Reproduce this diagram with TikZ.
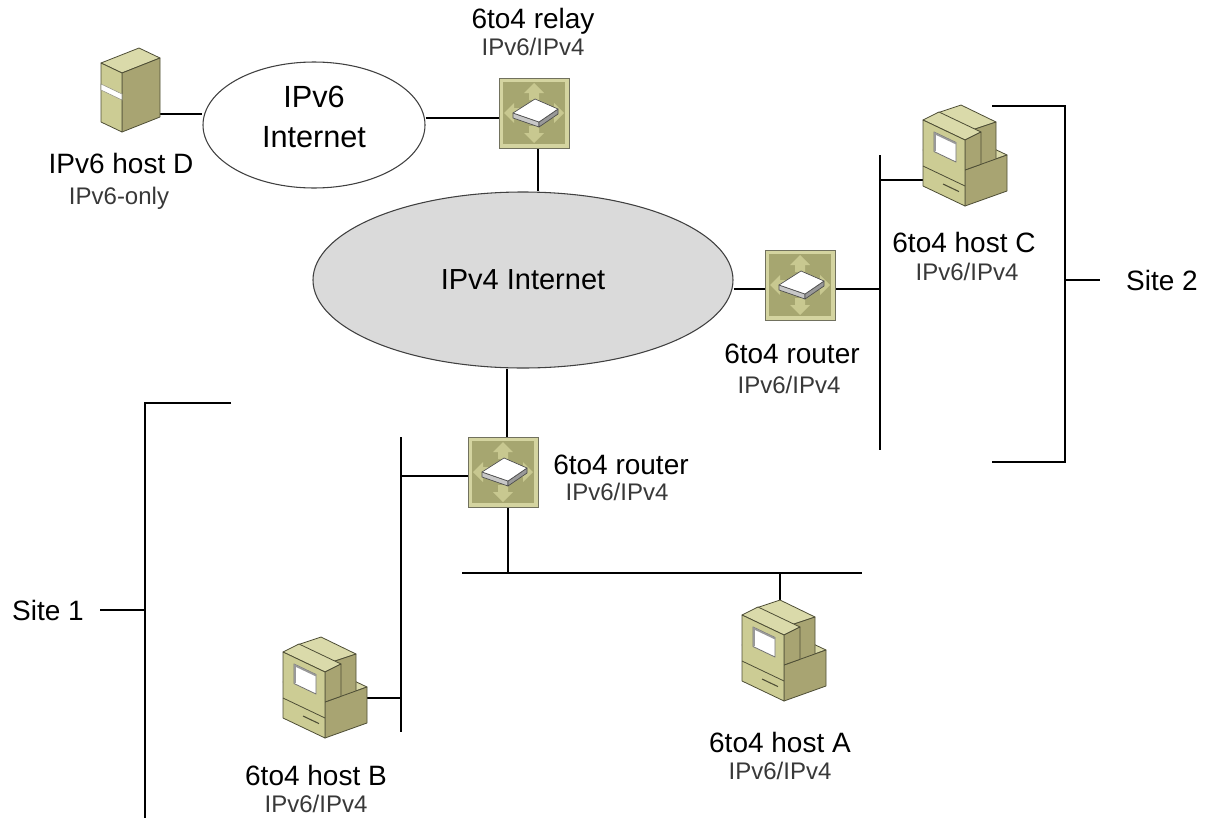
\documentclass[tikz,border=0pt]{standalone}
\usepackage{fontspec}
\setmainfont{Liberation Sans}
\usetikzlibrary{shapes.geometric}

\definecolor{khakiFront}{HTML}{CCCC94}
\definecolor{khakiSide}{HTML}{A8A472}
\definecolor{khakiTop}{HTML}{DADAAA}
\definecolor{edgeDark}{HTML}{4E4E36}
\definecolor{routerFrame}{HTML}{D4D4A0}
\definecolor{routerInner}{HTML}{A6A670}
\definecolor{routerArrow}{HTML}{C8C890}
\definecolor{cloudGray}{HTML}{DADADA}

\tikzset{
  wire/.style={line width=1pt, black},
  mainlbl/.style={inner sep=0pt, anchor=base, font=\fontsize{21}{24}\selectfont},
  sublbl/.style={inner sep=0pt, anchor=base, text=black!78, font=\fontsize{18}{21}\selectfont},
  iconbox/.style={inner sep=0pt, outer sep=0pt, rectangle},
  routerbox/.style={iconbox, minimum width=52.5pt, minimum height=52.5pt},
  hostbox/.style={iconbox, minimum width=63pt, minimum height=75pt},
  facefront/.style={fill=khakiFront, draw=edgeDark, line width=0.6pt, line join=round},
  faceside/.style={fill=khakiSide, draw=edgeDark, line width=0.6pt, line join=round},
  facetop/.style={fill=khakiTop, draw=edgeDark, line width=0.6pt, line join=round},
  v6cloud/.style={ellipse, draw=black!75, line width=0.8pt, fill=white,
    minimum width=166.5pt, minimum height=94.5pt, inner sep=0pt},
  v4cloud/.style={ellipse, draw=black!75, line width=0.8pt, fill=cloudGray,
    minimum width=315pt, minimum height=132pt, inner sep=0pt,
    font=\fontsize{21.75}{24}\selectfont},
  cloudtxt/.style={inner sep=0pt, anchor=base, font=\fontsize{23}{26}\selectfont},
  % switching device: khaki tile, four outward arrows, white plate
  pics/router/.style={code={
    \fill[routerFrame] (0,0) rectangle (70,70);
    \fill[routerInner] (4,4) rectangle (66,66);
    \fill[routerArrow] (35,5) -- (45,15) -- (40,15) -- (40,22) -- (30,22) -- (30,15) -- (25,15) -- cycle;
    \fill[routerArrow] (35,65) -- (45,55) -- (40,55) -- (40,48) -- (30,48) -- (30,55) -- (25,55) -- cycle;
    \fill[routerArrow] (5,35) -- (15,25) -- (15,30) -- (22,30) -- (22,40) -- (15,40) -- (15,45) -- cycle;
    \fill[routerArrow] (65,35) -- (55,25) -- (55,30) -- (48,30) -- (48,40) -- (55,40) -- (55,45) -- cycle;
    \draw[edgeDark!80, line width=0.6pt] (0,0) rectangle (70,70);
    \filldraw[fill=black!22, draw=black!70, line width=0.5pt, line join=round]
      (14,35) -- (40,44) -- (40,49) -- (14,40) -- cycle;
    \filldraw[fill=black!40, draw=black!70, line width=0.5pt, line join=round]
      (40,44) -- (59,31) -- (59,36) -- (40,49) -- cycle;
    \filldraw[fill=white, draw=black!70, line width=0.5pt, line join=round]
      (14,35) -- (36,21) -- (59,31) -- (40,44) -- cycle;
  }},
  % desktop computer, origin at the upper left corner of its front face
  pics/computer/.style={code={
    % top of the deep base unit
    \filldraw[facetop] (0,30) -- (42,15) -- (84,35) -- (42,50) -- cycle;
    % raised back of the monitor
    \filldraw[facetop] (14,-7) -- (38,-15) -- (73,2) -- (49,10) -- cycle;
    \filldraw[faceside] (49,10) -- (73,2) -- (73,40) -- (49,48) -- cycle;
    % side of the base unit
    \filldraw[faceside] (42,50) -- (84,35) -- (84,71) -- (42,86) -- cycle;
    % front body with screen
    \filldraw[facetop] (0,0) -- (16,-8) -- (58,12) -- (42,20) -- cycle;
    \filldraw[faceside] (42,20) -- (58,12) -- (58,44.3) -- (42,50) -- cycle;
    \filldraw[facefront] (0,0) -- (42,20) -- (42,86) -- (0,66) -- cycle;
    \draw[edgeDark, line width=0.6pt] (0,46) -- (42,66);
    \filldraw[fill=white, draw=black!55, line width=0.6pt, line join=round]
      (11,12) -- (33,22.5) -- (33,42) -- (11,31.5) -- cycle;
    \draw[black!40, line width=1.3pt] (12,31) -- (12,13.5) -- (33,23.5);
    \draw[edgeDark, line width=0.8pt] (20,64) -- (36,71.6);
  }},
  % tower server, origin at the upper left corner of its front face
  pics/server/.style={code={
    \filldraw[facetop] (0,0) -- (38,-15) -- (59,-5) -- (21,10) -- cycle;
    \filldraw[faceside] (21,10) -- (59,-5) -- (59,54) -- (21,69) -- cycle;
    \filldraw[facefront] (0,0) -- (21,10) -- (21,69) -- (0,59) -- cycle;
    \filldraw[fill=white, draw=edgeDark!60, line width=0.4pt] (0,21) -- (21,31) -- (21,37) -- (0,27) -- cycle;
  }},
}

\begin{document}
\begin{tikzpicture}[x=0.75pt, y=-0.75pt]
\useasboundingbox (0,0) rectangle (1215,818);

% clouds
\node[v6cloud] (v6) at (314,125) {};
\node[cloudtxt] (v6a) at (314,107) {IPv6};
\node[cloudtxt] (v6b) at (314,147) {Internet};
\node[v4cloud] (v4) at (523,280) {IPv4 Internet};

% device placeholders
\node[iconbox, minimum width=44.25pt, minimum height=63pt] (serverD) at (130.5,90) {};
\node[routerbox] (relay) at (534,113) {};
\node[routerbox] (R2) at (800,285) {};
\node[routerbox] (R1) at (503,472) {};
\node[hostbox] (hostC) at (965,155) {};
\node[hostbox] (hostA) at (784,650) {};
\node[hostbox] (hostB) at (325,687) {};

% buses and tap points
\coordinate (busRt) at (880,155);
\coordinate (busRb) at (880,450);
\coordinate (busLt) at (401,437);
\coordinate (busLb) at (401,732);
\coordinate (busHl) at (462,573);
\coordinate (busHr) at (862,573);
\coordinate (tD) at (0,114);
\coordinate (tRel) at (0,118);
\coordinate (tRelD) at (538,0);
\coordinate (tR2) at (0,289);
\coordinate (tC) at (0,180);
\coordinate (tR1) at (507,0);
\coordinate (tR1L) at (0,476);
\coordinate (tR1D) at (508,0);
\coordinate (tA) at (780,0);
\coordinate (tB) at (0,698);

\draw[wire] (busRt) -- (busRb);
\draw[wire] (busLt) -- (busLb);
\draw[wire] (busHl) -- (busHr);

\draw[wire] (serverD.east |- tD) -- (v6.west |- tD);
\draw[wire] (v6.east |- tRel) -- (relay.west |- tRel);
\draw[wire] (relay.south -| tRelD) -- (v4.north -| tRelD);
\draw[wire] (v4.east |- tR2) -- (R2.west |- tR2);
\draw[wire] (R2.east |- tR2) -- (busRt |- tR2);
\draw[wire] (busRt |- tC) -- (hostC.west |- tC);
\draw[wire] (v4.south -| tR1) -- (R1.north -| tR1);
\draw[wire] (R1.west |- tR1L) -- (busLt |- tR1L);
\draw[wire] (R1.south -| tR1D) -- (busHl -| tR1D);
\draw[wire] (busHl -| tA) -- (hostA.north -| tA);
\draw[wire] (hostB.east |- tB) -- (busLt |- tB);

% site brackets
\coordinate (s2top) at (992,106);
\coordinate (s2tr) at (1065,106);
\coordinate (s2br) at (1065,462);
\coordinate (s2bot) at (992,462);
\coordinate (s2mid) at (1065,280);
\coordinate (s2end) at (1100,280);
\draw[wire] (s2top) -- (s2tr) -- (s2br) -- (s2bot);
\draw[wire] (s2mid) -- (s2end);

\coordinate (s1top) at (231,403);
\coordinate (s1tl) at (145,403);
\coordinate (s1bot) at (145,818);
\coordinate (s1mid) at (145,610);
\coordinate (s1end) at (100,610);
\draw[wire] (s1top) -- (s1tl) -- (s1bot);
\draw[wire] (s1mid) -- (s1end);

% device icons
\pic at (101,63) {server};
\pic at (499,78) {router};
\pic at (765,250) {router};
\pic at (468,437) {router};
\pic at (923,120) {computer};
\pic at (742,615) {computer};
\pic at (283,652) {computer};

% labels
\node[mainlbl] (lblD) at (121,173) {IPv6 host D};
\node[sublbl] (subD) at (119,204) {IPv6-only};
\node[mainlbl] (lblRelay) at (533,28) {6to4 relay};
\node[sublbl] (subRelay) at (533,55) {IPv6/IPv4};
\node[mainlbl] (lblR2) at (792,363) {6to4 router};
\node[sublbl] (subR2) at (789,393) {IPv6/IPv4};
\node[mainlbl] (lblC) at (964,252) {6to4 host C};
\node[sublbl] (subC) at (967,280) {IPv6/IPv4};
\node[mainlbl] (lblR1) at (621,474) {6to4 router};
\node[sublbl] (subR1) at (617,500) {IPv6/IPv4};
\node[mainlbl] (lblA) at (780,752) {6to4 host A};
\node[sublbl] (subA) at (780,779) {IPv6/IPv4};
\node[mainlbl] (lblB) at (316,785) {6to4 host B};
\node[sublbl] (subB) at (316,812) {IPv6/IPv4};
\node[mainlbl] (site1) at (48,620) {Site 1};
\node[mainlbl] (site2) at (1162,290) {Site 2};
\end{tikzpicture}
\end{document}
